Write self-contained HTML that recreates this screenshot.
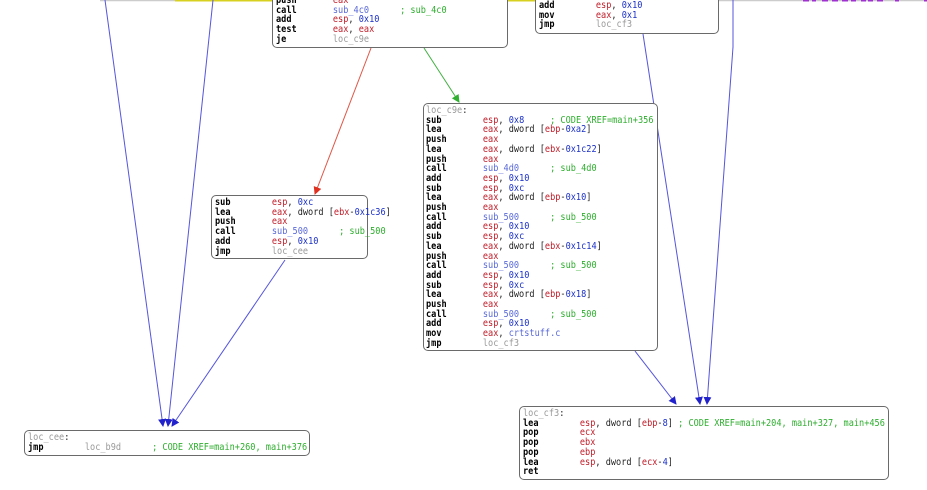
<!DOCTYPE html>
<html><head><meta charset="utf-8"><style>
html,body{margin:0;padding:0;background:#fff;width:927px;height:490px;overflow:hidden;position:relative}
.b{position:absolute;border:1px solid #6a6a6a;border-radius:5px;background:#fff;box-sizing:border-box}
pre{position:absolute;margin:0;font-family:"DejaVu Sans Mono","Liberation Mono",monospace;font-size:9.6px;line-height:9.7px;color:#222;white-space:pre;transform:scaleX(0.895);transform-origin:0 0}
.m{font-weight:bold;color:#000}
.r{color:#c01c28}
.n{color:#1a30c8}
.f{color:#5a6ad8}
.l{color:#999}
.c{color:#2fae2f}
svg{position:absolute;left:0;top:0}
</style></head><body>
<svg width="927" height="490">
<defs>
<marker id="ab" markerWidth="8" markerHeight="8" refX="7" refY="4" orient="auto" markerUnits="userSpaceOnUse"><path d="M0,0 L8,4 L0,8 z" fill="#2222cc"/></marker>
<marker id="ar" markerWidth="8" markerHeight="8" refX="7" refY="4" orient="auto" markerUnits="userSpaceOnUse"><path d="M0,0 L8,4 L0,8 z" fill="#e03020"/></marker>
<marker id="ag" markerWidth="8" markerHeight="8" refX="7" refY="4" orient="auto" markerUnits="userSpaceOnUse"><path d="M0,0 L8,4 L0,8 z" fill="#30b030"/></marker>
</defs>
<line x1="100" y1="0.5" x2="175" y2="0.5" stroke="#ccc" stroke-width="1.5"/>
<line x1="175" y1="0.5" x2="545" y2="0.5" stroke="#d8d020" stroke-width="2"/>
<line x1="718" y1="0.5" x2="927" y2="0.5" stroke="#ccc" stroke-width="1.5"/>
<path d="M803,0.5 h6 M812,0.5 h4 M822,0.5 h6 M832,0.5 h6 M842,0.5 h6 M851,0.5 h5 M861,0.5 h5 M868,0.5 h5 M877,0.5 h6 M895,0.5 h4 M924,0.5 h3" stroke="#a030d0" stroke-width="2"/>
<line x1="105" y1="0" x2="163" y2="426" stroke="#5555dd" stroke-width="1" marker-end="url(#ab)"/>
<line x1="213" y1="0" x2="168" y2="426" stroke="#5555dd" stroke-width="1" marker-end="url(#ab)"/>
<line x1="285" y1="260" x2="172" y2="426" stroke="#5555dd" stroke-width="1" marker-end="url(#ab)"/>
<line x1="371" y1="48" x2="315" y2="194" stroke="#e05545" stroke-width="1" marker-end="url(#ar)"/>
<line x1="424" y1="48" x2="459" y2="102" stroke="#40b040" stroke-width="1" marker-end="url(#ag)"/>
<line x1="643" y1="34" x2="700" y2="404" stroke="#5555dd" stroke-width="1" marker-end="url(#ab)"/>
<polyline points="733,0 733,47 707,404" fill="none" stroke="#5555dd" stroke-width="1" marker-end="url(#ab)"/>
<line x1="635" y1="351" x2="676" y2="404" stroke="#5555dd" stroke-width="1" marker-end="url(#ab)"/>
</svg>

<div class="b" style="left:272px;top:-12px;width:236px;height:60px"></div>
<pre style="left:276px;top:-4px"><span class="m">push</span>       <span class="r">eax</span>
<span class="m">call</span>       <span class="f">sub_4c0</span>      <span class="c">; sub_4c0</span>
<span class="m">add</span>        <span class="r">esp</span>, <span class="n">0x10</span>
<span class="m">test</span>       <span class="r">eax</span>, <span class="r">eax</span>
<span class="m">je</span>         <span class="l">loc_c9e</span></pre>

<div class="b" style="left:535px;top:-12px;width:184px;height:46px"></div>
<pre style="left:539px;top:1px"><span class="m">add</span>        <span class="r">esp</span>, <span class="n">0x10</span>
<span class="m">mov</span>        <span class="r">eax</span>, <span class="n">0x1</span>
<span class="m">jmp</span>        <span class="l">loc_cf3</span></pre>

<div class="b" style="left:423px;top:103px;width:235px;height:248px"></div>
<pre style="left:426px;top:106px"><span class="l">loc_c9e</span>:
<span class="m">sub</span>        <span class="r">esp</span>, <span class="n">0x8</span>     <span class="c">; CODE XREF=main+356</span>
<span class="m">lea</span>        <span class="r">eax</span>, dword [<span class="r">ebp</span>-<span class="n">0xa2</span>]
<span class="m">push</span>       <span class="r">eax</span>
<span class="m">lea</span>        <span class="r">eax</span>, dword [<span class="r">ebx</span>-<span class="n">0x1c22</span>]
<span class="m">push</span>       <span class="r">eax</span>
<span class="m">call</span>       <span class="f">sub_4d0</span>      <span class="c">; sub_4d0</span>
<span class="m">add</span>        <span class="r">esp</span>, <span class="n">0x10</span>
<span class="m">sub</span>        <span class="r">esp</span>, <span class="n">0xc</span>
<span class="m">lea</span>        <span class="r">eax</span>, dword [<span class="r">ebp</span>-<span class="n">0x10</span>]
<span class="m">push</span>       <span class="r">eax</span>
<span class="m">call</span>       <span class="f">sub_500</span>      <span class="c">; sub_500</span>
<span class="m">add</span>        <span class="r">esp</span>, <span class="n">0x10</span>
<span class="m">sub</span>        <span class="r">esp</span>, <span class="n">0xc</span>
<span class="m">lea</span>        <span class="r">eax</span>, dword [<span class="r">ebx</span>-<span class="n">0x1c14</span>]
<span class="m">push</span>       <span class="r">eax</span>
<span class="m">call</span>       <span class="f">sub_500</span>      <span class="c">; sub_500</span>
<span class="m">add</span>        <span class="r">esp</span>, <span class="n">0x10</span>
<span class="m">sub</span>        <span class="r">esp</span>, <span class="n">0xc</span>
<span class="m">lea</span>        <span class="r">eax</span>, dword [<span class="r">ebp</span>-<span class="n">0x18</span>]
<span class="m">push</span>       <span class="r">eax</span>
<span class="m">call</span>       <span class="f">sub_500</span>      <span class="c">; sub_500</span>
<span class="m">add</span>        <span class="r">esp</span>, <span class="n">0x10</span>
<span class="m">mov</span>        <span class="r">eax</span>, <span class="f">crtstuff.c</span>
<span class="m">jmp</span>        <span class="l">loc_cf3</span></pre>

<div class="b" style="left:211px;top:195px;width:157px;height:64px"></div>
<pre style="left:215px;top:198px"><span class="m">sub</span>        <span class="r">esp</span>, <span class="n">0xc</span>
<span class="m">lea</span>        <span class="r">eax</span>, dword [<span class="r">ebx</span>-<span class="n">0x1c36</span>]
<span class="m">push</span>       <span class="r">eax</span>
<span class="m">call</span>       <span class="f">sub_500</span>      <span class="c">; sub_500</span>
<span class="m">add</span>        <span class="r">esp</span>, <span class="n">0x10</span>
<span class="m">jmp</span>        <span class="l">loc_cee</span></pre>

<div class="b" style="left:24px;top:430px;width:286px;height:26px"></div>
<pre style="left:28px;top:433px"><span class="l">loc_cee</span>:
<span class="m">jmp</span>        <span class="l">loc_b9d</span>      <span class="c">; CODE XREF=main+260, main+376</span></pre>

<div class="b" style="left:519px;top:406px;width:370px;height:74px"></div>
<pre style="left:523px;top:409px"><span class="l">loc_cf3</span>:
<span class="m">lea</span>        <span class="r">esp</span>, dword [<span class="r">ebp</span>-<span class="n">8</span>] <span class="c">; CODE XREF=main+204, main+327, main+456</span>
<span class="m">pop</span>        <span class="r">ecx</span>
<span class="m">pop</span>        <span class="r">ebx</span>
<span class="m">pop</span>        <span class="r">ebp</span>
<span class="m">lea</span>        <span class="r">esp</span>, dword [<span class="r">ecx</span>-<span class="n">4</span>]
<span class="m">ret</span></pre>
</body></html>
